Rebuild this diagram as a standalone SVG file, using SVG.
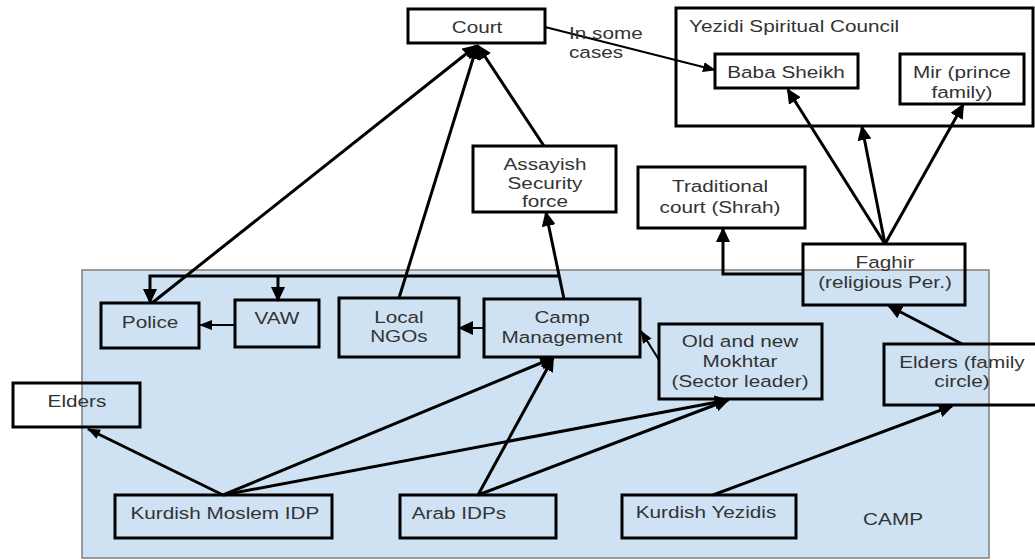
<svg xmlns="http://www.w3.org/2000/svg" width="1035" height="560" viewBox="0 0 1035 560">
<style>
.box{fill:none;stroke:#000;stroke-width:3}
.t{font-family:"Liberation Sans",Arial,sans-serif;font-size:17px;fill:#333;text-anchor:middle}
.ts{text-anchor:start}
.c{fill:none;stroke:#000;stroke-width:3}
.thin{stroke-width:2}
</style>
<defs>
<marker id="ah" markerUnits="userSpaceOnUse" markerWidth="16" markerHeight="14" refX="13" refY="7" orient="auto">
<path d="M0,0 L15,7 L0,14 z" fill="#000"/>
</marker>
<marker id="ahs" markerUnits="userSpaceOnUse" markerWidth="14" markerHeight="12" refX="12" refY="5" orient="auto">
<path d="M0,0 L13,5 L0,10 z" fill="#000"/>
</marker>
</defs>
<rect width="1035" height="560" fill="#fff"/>
<g id="camp">
<rect x="82" y="270" width="907" height="288" fill="#cfe2f3" stroke="#7f7f7f" stroke-width="1.5"/>
<text class="t" transform="scale(1.22 1)" x="732" y="525">CAMP</text>
</g>
<g id="connectors">
<line class="c" x1="152" y1="303" x2="476" y2="46" marker-end="url(#ah)"/>
<line class="c" x1="399" y1="298" x2="477" y2="46" marker-end="url(#ah)"/>
<line class="c" x1="544" y1="146" x2="478" y2="46" marker-end="url(#ah)"/>
<line class="c thin" x1="545" y1="27" x2="715" y2="70" marker-end="url(#ahs)"/>
<line class="c" x1="564" y1="299" x2="546" y2="213" marker-end="url(#ah)"/>
<polyline class="c" points="559,276 150,276 150,302" marker-end="url(#ah)"/>
<line class="c" x1="278" y1="276" x2="278" y2="300" marker-end="url(#ah)"/>
<line class="c thin" x1="235" y1="325" x2="200" y2="325" marker-end="url(#ahs)"/>
<line class="c thin" x1="484" y1="328" x2="460" y2="328" marker-end="url(#ah)"/>
<line class="c thin" x1="659" y1="360" x2="641" y2="331" marker-end="url(#ahs)"/>
<line class="c" x1="223" y1="495" x2="88" y2="429" marker-end="url(#ahs)"/>
<line class="c" x1="223" y1="495" x2="553" y2="358" marker-end="url(#ah)"/>
<line class="c" x1="223" y1="495" x2="728" y2="400" marker-end="url(#ah)"/>
<line class="c" x1="478" y1="495" x2="553" y2="358" marker-end="url(#ah)"/>
<line class="c" x1="478" y1="495" x2="728" y2="400" marker-end="url(#ah)"/>
<line class="c" x1="713" y1="495" x2="952" y2="406" marker-end="url(#ah)"/>
<line class="c" x1="962" y1="344" x2="889" y2="306" marker-end="url(#ah)"/>
<polyline class="c" points="803,274 723,274 723,229" marker-end="url(#ah)"/>
<line class="c" x1="885" y1="244" x2="788" y2="90" marker-end="url(#ah)"/>
<line class="c" x1="885" y1="244" x2="862" y2="127" marker-end="url(#ah)"/>
<line class="c" x1="885" y1="244" x2="963" y2="105" marker-end="url(#ah)"/>
</g>
<g id="label-in-some-cases">
<text class="t ts" transform="scale(1.22 1)" x="466.4" y="39">In some</text>
<text class="t ts" transform="scale(1.22 1)" x="466.4" y="58">cases</text>
</g>
<g id="court">
<rect class="box" x="408" y="9" width="137" height="34"/>
<text class="t" transform="scale(1.22 1)" x="391" y="33">Court</text>
</g>
<g id="yezidi-council">
<rect class="box" x="676" y="8" width="357" height="118"/>
<text class="t ts" transform="scale(1.22 1)" x="564.8" y="32">Yezidi Spiritual Council</text>
</g>
<g id="baba-sheikh">
<rect class="box" x="715" y="54" width="143" height="34"/>
<text class="t" transform="scale(1.22 1)" x="644.3" y="78">Baba Sheikh</text>
</g>
<g id="mir">
<rect class="box" x="900" y="54" width="124" height="50"/>
<text class="t" transform="scale(1.22 1)" x="788.5" y="78">Mir (prince</text>
<text class="t" transform="scale(1.22 1)" x="788.5" y="98">family)</text>
</g>
<g id="assayish">
<rect class="box" x="473" y="146" width="143" height="66"/>
<text class="t" transform="scale(1.22 1)" x="446.7" y="170">Assayish</text>
<text class="t" transform="scale(1.22 1)" x="446.7" y="189">Security</text>
<text class="t" transform="scale(1.22 1)" x="446.7" y="207">force</text>
</g>
<g id="traditional-court">
<rect class="box" x="638" y="167" width="167" height="61"/>
<text class="t" transform="scale(1.22 1)" x="590.2" y="192">Traditional</text>
<text class="t" transform="scale(1.22 1)" x="590.2" y="213">court (Shrah)</text>
</g>
<g id="faghir">
<rect class="box" x="803" y="244" width="162" height="61"/>
<text class="t" transform="scale(1.22 1)" x="725.4" y="268">Faghir</text>
<text class="t" transform="scale(1.22 1)" x="725.4" y="288">(religious Per.)</text>
</g>
<g id="police">
<rect class="box" x="101" y="303" width="98" height="45"/>
<text class="t" transform="scale(1.22 1)" x="123" y="328">Police</text>
</g>
<g id="vaw">
<rect class="box" x="235" y="300" width="84" height="47"/>
<text class="t" transform="scale(1.22 1)" x="227" y="324">VAW</text>
</g>
<g id="local-ngos">
<rect class="box" x="339" y="298" width="120" height="59"/>
<text class="t" transform="scale(1.22 1)" x="327" y="323">Local</text>
<text class="t" transform="scale(1.22 1)" x="327" y="342">NGOs</text>
</g>
<g id="camp-management">
<rect class="box" x="484" y="299" width="156" height="58"/>
<text class="t" transform="scale(1.22 1)" x="460.7" y="323">Camp</text>
<text class="t" transform="scale(1.22 1)" x="460.7" y="343">Management</text>
</g>
<g id="mokhtar">
<rect class="box" x="659" y="324" width="163" height="75"/>
<text class="t" transform="scale(1.22 1)" x="606.6" y="347">Old and new</text>
<text class="t" transform="scale(1.22 1)" x="606.6" y="367">Mokhtar</text>
<text class="t" transform="scale(1.22 1)" x="606.6" y="387">(Sector leader)</text>
</g>
<g id="elders-family">
<rect class="box" x="884" y="344" width="155" height="61"/>
<text class="t" transform="scale(1.22 1)" x="788.5" y="368">Elders (family</text>
<text class="t" transform="scale(1.22 1)" x="788.5" y="387">circle)</text>
</g>
<g id="elders">
<rect class="box" x="13" y="383" width="127" height="44"/>
<text class="t" transform="scale(1.22 1)" x="63.1" y="407">Elders</text>
</g>
<g id="kurdish-moslem-idp">
<rect class="box" x="115" y="495" width="217" height="43"/>
<text class="t" transform="scale(1.22 1)" x="184.4" y="519">Kurdish Moslem IDP</text>
</g>
<g id="arab-idps">
<rect class="box" x="400" y="495" width="156" height="43"/>
<text class="t" transform="scale(1.22 1)" x="376.2" y="519">Arab IDPs</text>
</g>
<g id="kurdish-yezidis">
<rect class="box" x="622" y="495" width="174" height="43"/>
<text class="t" transform="scale(1.22 1)" x="578.7" y="518">Kurdish Yezidis</text>
</g>
</svg>
